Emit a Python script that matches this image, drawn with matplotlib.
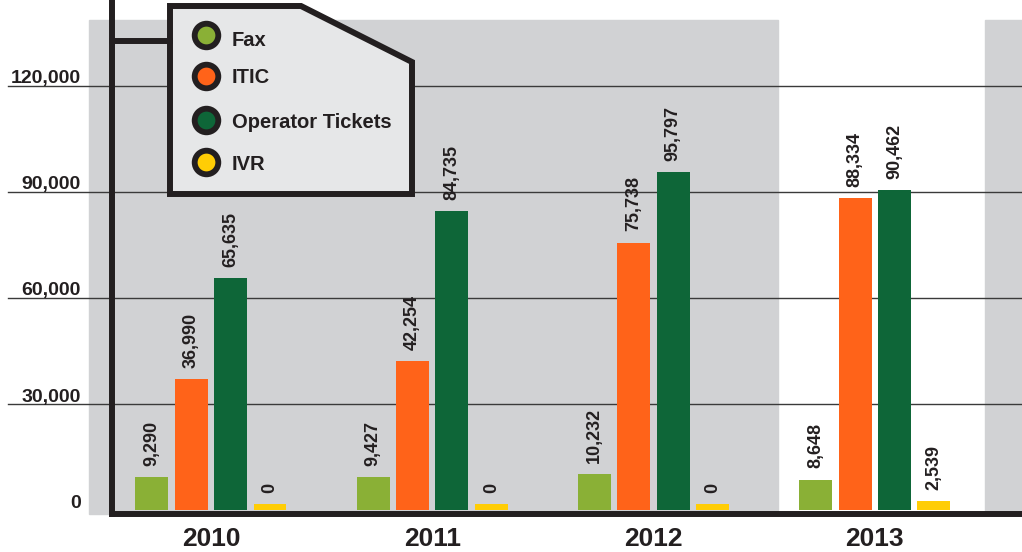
import matplotlib.pyplot as plt
import numpy as np
from matplotlib.patches import Polygon
from matplotlib.lines import Line2D

years = ['2010', '2011', '2012', '2013']
series = ['Fax', 'ITIC', 'Operator Tickets', 'IVR']
fax = [9290, 9427, 10232, 8648]
itic = [36990, 42254, 75738, 88334]
operator = [65635, 84735, 95797, 90462]
ivr = [0, 0, 0, 2539]
yticks = [0, 30000, 60000, 90000, 120000]

colors = ['#8ab036', '#ff6319', '#0e6638', '#ffcd05']
black = '#231f20'
grey = '#d1d2d4'

W, H = 1022, 552
plt.rcParams['font.family'] = ['Liberation Sans', 'DejaVu Sans']
plt.rcParams['font.weight'] = 'bold'

fig = plt.figure(figsize=(W / 100, H / 100), dpi=100)
ax = fig.add_axes([112 / W, 38 / H, 910 / W, 514 / H])

def px(x, y):
    return (x / W, 1 - y / H)

x = np.arange(len(years))
pitch = 0.178
width = 0.149
min_h = 1700  # zero bars still get a small sliver

for i, (vals, c) in enumerate(zip([fax, itic, operator, ivr], colors)):
    pos = x + (i - 1.5) * pitch
    heights = [max(v, min_h) for v in vals]
    ax.bar(pos, heights, width, color=c, zorder=3)
    for p, h, v in zip(pos, heights, vals):
        ax.annotate(f'{v:,}', xy=(p, h), xytext=(0, 8), textcoords='offset points',
                    rotation=90, ha='center', va='bottom', fontsize=13,
                    fontweight='bold', color=black, zorder=4)

ax.set_xlim(-0.447, 3.665)
ax.set_ylim(-1100, 144370)

# grey background panels
ax.axvspan(-0.551, 2.562, ymin=0, ymax=0.961, color=grey, zorder=0, clip_on=False)
ax.axvspan(3.497, 3.8, ymin=0, ymax=0.961, color=grey, zorder=0, clip_on=False)

# gridlines + y labels
for v in yticks[1:]:
    ax.axhline(v, xmin=-0.114, xmax=1, color='#3a3a3a', lw=1, zorder=1, clip_on=False)
for v in yticks:
    ax.annotate(f'{v:,}', xy=(-0.034, v), xycoords=('axes fraction', 'data'),
                xytext=(0, -1), textcoords='offset points', ha='right', va='bottom',
                fontsize=14, fontweight='bold', color=black)

ax.set_yticks([])
ax.set_xticks(x)
ax.set_xticklabels(years, fontsize=19, fontweight='bold', color=black)
ax.tick_params(axis='x', length=0, pad=9)

for s in ['top', 'right']:
    ax.spines[s].set_visible(False)
for s in ['left', 'bottom']:
    ax.spines[s].set_linewidth(4.3)
    ax.spines[s].set_color(black)
    ax.spines[s].set_zorder(5)
ax.patch.set_visible(False)

# legend box with cut corner
box = [px(170, 6), px(301, 6), px(412, 62), px(412, 194), px(170, 194)]
fig.add_artist(Polygon(box, closed=True, facecolor='#e6e7e8', edgecolor=black,
                       lw=4.3, joinstyle='miter', transform=fig.transFigure, zorder=10))
fig.add_artist(Line2D([px(112, 41)[0], px(170, 41)[0]], [px(112, 41)[1]] * 2,
                      color=black, lw=4.3, transform=fig.transFigure, zorder=10))

marker_y = [35, 76, 120, 162]
text_y = [46, 83, 128, 170]
for name, c, my, ty in zip(series, colors, marker_y, text_y):
    mx, myf = px(206, my)
    fig.add_artist(Line2D([mx], [myf], marker='o', markersize=17, markerfacecolor=c,
                          markeredgecolor=black, markeredgewidth=4.2,
                          transform=fig.transFigure, zorder=11))
    tx, tyf = px(232, ty)
    fig.text(tx, tyf, name, fontsize=14.5, fontweight='bold', color=black,
             ha='left', va='baseline', zorder=11)

fig.savefig('out.png', dpi=100)
